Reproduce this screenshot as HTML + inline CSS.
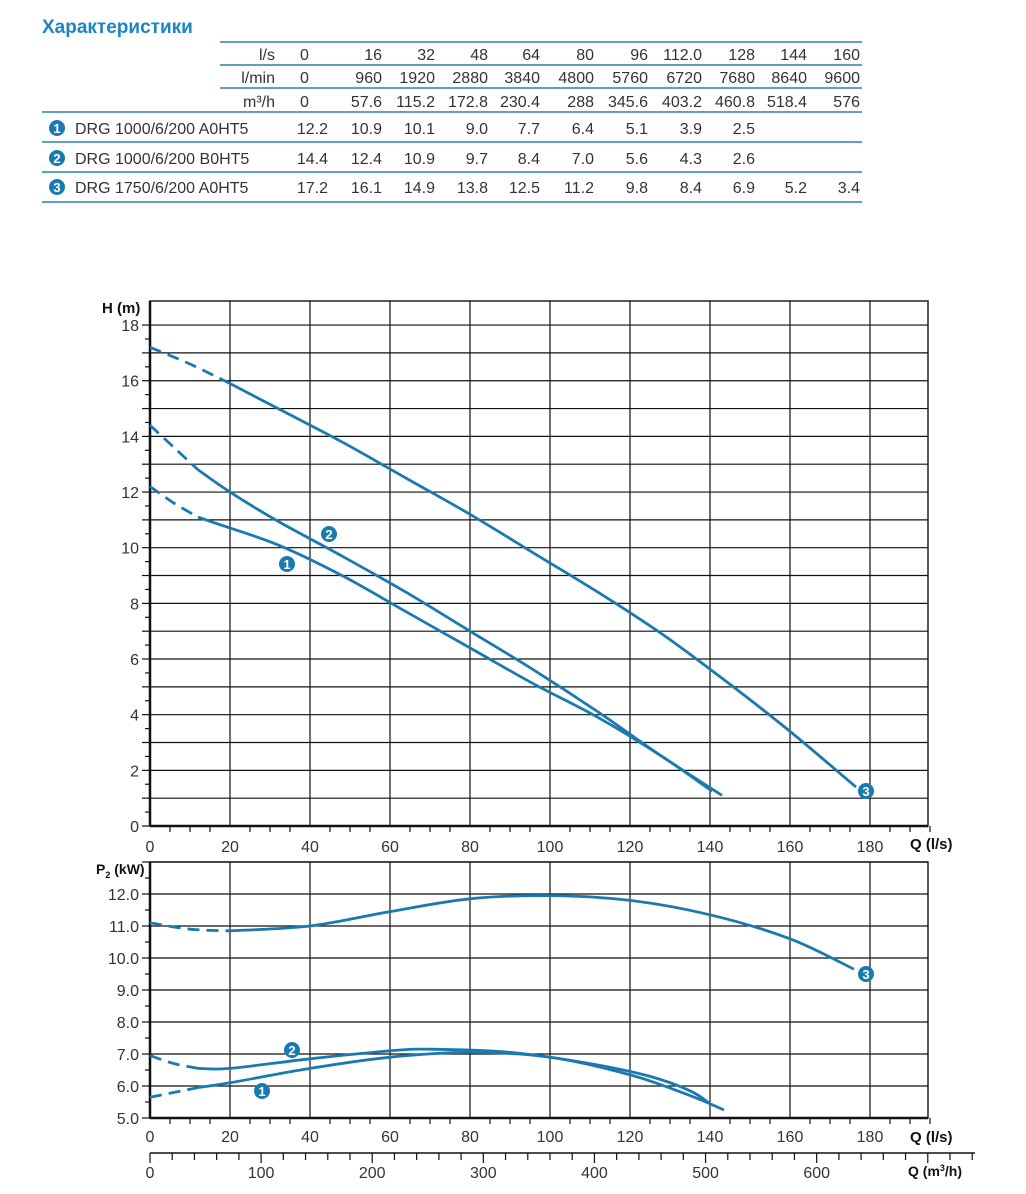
<!DOCTYPE html>
<html><head><meta charset="utf-8">
<style>
html,body{margin:0;padding:0;background:#fff;}
svg{display:block;font-family:"Liberation Sans",sans-serif;}
</style></head>
<body>
<svg id="s" width="1026" height="1194" viewBox="0 0 1026 1194" xmlns="http://www.w3.org/2000/svg">
<text x="42" y="33" font-size="19" font-weight="bold" fill="#1a86c2">Характеристики</text>
<g stroke="#2b7fae" stroke-width="1.5">
<line x1="220" y1="42" x2="862" y2="42"/>
<line x1="220" y1="65" x2="862" y2="65"/>
<line x1="220" y1="88" x2="862" y2="88"/>
<line x1="42" y1="112" x2="862" y2="112"/>
<line x1="42" y1="142" x2="862" y2="142"/>
<line x1="42" y1="172" x2="862" y2="172"/>
<line x1="42" y1="202" x2="862" y2="202"/>
</g>
<g id="tbl" font-size="16" fill="#333"></g>
<g id="chart"></g>
</svg>
<script>
var NS="http://www.w3.org/2000/svg",svg=document.getElementById('chart'),tbl=document.getElementById('tbl');
function el(p,t,a,txt){var e=document.createElementNS(NS,t);for(var k in a)e.setAttribute(k,a[k]);if(txt!==undefined)e.textContent=txt;p.appendChild(e);return e;}
var rights=[310,382,435,488,540,594,648,702,755,807,860];
var hdr=[["l/s",60,["0","16","32","48","64","80","96","112.0","128","144","160"]],
["l/min",83,["0","960","1920","2880","3840","4800","5760","6720","7680","8640","9600"]],
["m³/h",107,["0","57.6","115.2","172.8","230.4","288","345.6","403.2","460.8","518.4","576"]]];
hdr.forEach(function(h){el(tbl,'text',{x:275,y:h[1],'text-anchor':'end'},h[0]);
h[2].forEach(function(v,i){el(tbl,'text',{x:i==0?300:rights[i],y:h[1],'text-anchor':i==0?'start':'end'},v);});});
var rows=[["1","DRG 1000/6/200 A0HT5",134,["12.2","10.9","10.1","9.0","7.7","6.4","5.1","3.9","2.5"]],
["2","DRG 1000/6/200 B0HT5",164,["14.4","12.4","10.9","9.7","8.4","7.0","5.6","4.3","2.6"]],
["3","DRG 1750/6/200 A0HT5",193,["17.2","16.1","14.9","13.8","12.5","11.2","9.8","8.4","6.9","5.2","3.4"]]];
function marker(p,x,y,n){el(p,'circle',{cx:x,cy:y,r:8,fill:'#1a7ab0'});el(p,'text',{x:x,y:y+5,'text-anchor':'middle','font-size':13,'font-weight':'bold',fill:'#fff'},n);}
rows.forEach(function(r){marker(tbl,57,r[2]-6,r[0]);el(tbl,'text',{x:75,y:r[2]},r[1]);
r[3].forEach(function(v,i){el(tbl,'text',{x:i==0?328:rights[i],y:r[2],'text-anchor':'end'},v);});});
var X=function(q){return 150+q*4;};
var g=el(svg,'g',{stroke:'#111','stroke-width':1.2,fill:'none'});
function grid(top,bot,yfn,ymin,ymax){
 for(var v=ymin;v<=ymax;v++)el(g,'line',{x1:150,x2:928,y1:yfn(v),y2:yfn(v)});
 for(var q=20;q<=180;q+=20)el(g,'line',{x1:X(q),x2:X(q),y1:top,y2:bot});
 el(g,'rect',{x:150,y:top,width:778,height:bot-top,'stroke-width':1.4});
 el(g,'line',{x1:150,x2:928,y1:bot,y2:bot,'stroke-width':2.5});
 el(g,'line',{x1:150,x2:150,y1:top,y2:bot,'stroke-width':2.5});
 for(var q=5;q<=195;q+=5){el(g,'line',{x1:X(q),x2:X(q),y1:bot,y2:bot+(q%20==0?0:6)});}
 for(var v=ymin;v<=ymax;v+=0.5)el(g,'line',{x1:150,x2:v%1==0?142:145,y1:yfn(v),y2:yfn(v)});
}
var YH=function(h){return 826-h*27.83;}, YP=function(p){return 1118-(p-5)*32;};
grid(301,826,YH,0,18);grid(862,1118,YP,5,13);
var tx=el(svg,'g',{'font-size':16,fill:'#333'});
for(var h=0;h<=18;h+=2)el(tx,'text',{x:139,y:YH(h)+6,'text-anchor':'end'},h);
for(var p=5;p<=12;p++)el(tx,'text',{x:139,y:YP(p)+6,'text-anchor':'end'},p.toFixed(1));
for(var q=0;q<=180;q+=20){el(tx,'text',{x:X(q),y:852,'text-anchor':'middle'},q);el(tx,'text',{x:X(q),y:1142,'text-anchor':'middle'},q);}
el(g,'line',{x1:150,x2:975,y1:1153,y2:1153,'stroke-width':1.5});
for(var m=0;m<=740;m+=20){var xx=150+m*4/3.6;el(g,'line',{x1:xx,x2:xx,y1:1153,y2:1153+(m%100==0?10:7)});if(m%100==0&&m<=600)el(tx,'text',{x:xx,y:1178,'text-anchor':'middle'},m);}
var bt=el(svg,'g',{'font-size':15,'font-weight':'bold',fill:'#111'});
el(bt,'text',{x:102,y:313},'H (m)');
el(bt,'text',{x:910,y:849},'Q (l/s)');
el(bt,'text',{x:910,y:1142},'Q (l/s)');
var t=el(bt,'text',{x:96,y:874,'font-size':14});t.innerHTML='P<tspan font-size="9" dy="4">2</tspan><tspan dy="-4"> (kW)</tspan>';
var t2=el(bt,'text',{x:908,y:1176,'font-size':14});t2.innerHTML='Q (m<tspan font-size="9" dy="-5">3</tspan><tspan dy="5">/h)</tspan>';
function path(pts){var d='M'+pts[0][0]+','+pts[0][1];for(var i=0;i<pts.length-1;i++){var p0=pts[i-1]||pts[i],p1=pts[i],p2=pts[i+1],p3=pts[i+2]||p2;
d+=' C'+(p1[0]+(p2[0]-p0[0])/6)+','+(p1[1]+(p2[1]-p0[1])/6)+' '+(p2[0]-(p3[0]-p1[0])/6)+','+(p2[1]-(p3[1]-p1[1])/6)+' '+p2[0]+','+p2[1];}return d;}
function curve(data,yf,dashEnd){var pts=data.map(function(d){return [X(d[0]),yf(d[1])];});
var a=pts.filter(function(p,i){return data[i][0]<=dashEnd;}),b=pts.filter(function(p,i){return data[i][0]>=dashEnd;});
el(svg,'path',{d:path(a),stroke:'#1a7ab0','stroke-width':2.8,fill:'none','stroke-dasharray':'12,7'});
el(svg,'path',{d:path(b),stroke:'#1a7ab0','stroke-width':2.8,fill:'none'});}
curve([[0,12.2],[6,11.6],[12,11.1],[16,10.9],[32,10.1],[48,9.0],[64,7.7],[80,6.4],[96,5.1],[112,3.9],[128,2.5],[140.5,1.25]],YH,12);
curve([[0,14.4],[6,13.6],[12,12.8],[20,12.0],[32,10.95],[48,9.7],[64,8.4],[80,7.0],[96,5.6],[112,4.1],[128,2.5],[143,1.1]],YH,12);
curve([[0,17.2],[10,16.6],[20,15.9],[32,15.0],[48,13.8],[64,12.5],[80,11.2],[96,9.8],[112,8.4],[128,6.9],[144,5.2],[160,3.4],[176.5,1.4]],YH,20);
curve([[0,5.65],[6,5.8],[12,5.95],[20,6.1],[40,6.55],[60,6.9],[80,7.05],[100,6.9],[120,6.35],[135,5.7],[143.5,5.25]],YP,12);
curve([[0,6.95],[6,6.7],[12,6.55],[20,6.55],[40,6.85],[60,7.1],[70,7.15],[90,7.05],[110,6.7],[125,6.3],[135,5.85],[140,5.45]],YP,12);
curve([[0,11.1],[10,10.9],[20,10.85],[40,11.0],[60,11.45],[80,11.85],[100,11.95],[120,11.8],[140,11.35],[160,10.6],[176,9.65]],YP,20);
marker(svg,287,564,'1');marker(svg,329,534,'2');marker(svg,866,791,'3');
marker(svg,262,1091,'1');marker(svg,292,1050,'2');marker(svg,866,974,'3');
</script>
</body></html>
